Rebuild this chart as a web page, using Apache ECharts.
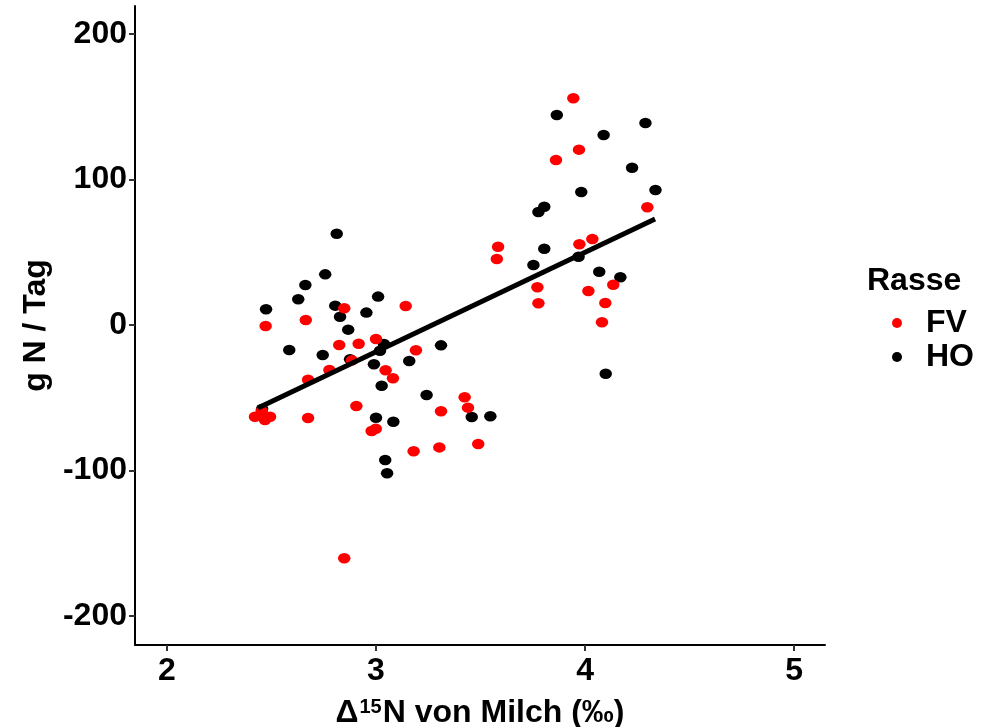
<!DOCTYPE html>
<html>
<head>
<meta charset="utf-8">
<script src="https://cdn.jsdelivr.net/npm/echarts@6/dist/echarts.min.js"></script>
<style>
  html, body { margin: 0; padding: 0; background: #fff; }
  #chart { width: 1000px; height: 727px; }
</style>
</head>
<body>
<div id="chart"></div>
<script>
// Rasse FV (rot)
const fvX = [3.944, 3.971, 3.861, 4.298, 3.584, 3.578, 3.973, 4.035, 3.772, 3.777,
  4.016, 4.135, 4.097, 4.081, 3.142, 2.848, 2.472, 2.664, 2.824, 2.917,
  3.000, 3.191, 2.885, 3.046, 3.081, 2.777, 2.675, 2.421, 2.453, 2.493,
  2.469, 2.675, 2.906, 2.979, 2.999, 3.311, 3.424, 3.440, 3.180, 3.303,
  3.489, 2.848]
const fvY = [155.8, 120.5, 113.4, 80.9, 53.8, 45.4, 55.5, 59.1, 25.9, 14.9,
  23.4, 27.7, 15.1, 1.9, 13.1, 11.5, -0.7, 3.4, -13.7, -12.9,
  -9.6, -17.4, -24.3, -31.1, -36.6, -30.9, -37.6, -63.0, -59.1, -63.0,
  -65.3, -63.9, -55.7, -72.9, -71.3, -59.3, -49.7, -56.8, -86.8, -84.1,
  -81.8, -160.3]

// Rasse HO (schwarz)
const hoX = [3.865, 4.289, 4.089, 4.225, 4.337, 3.982, 3.805, 3.777, 3.805, 3.753,
  3.969, 4.068, 4.169, 4.099, 2.812, 2.757, 2.662, 2.628, 2.474, 2.805,
  2.828, 2.954, 3.010, 2.867, 2.585, 2.745, 2.876, 3.038, 3.019, 2.990,
  3.159, 3.027, 3.242, 3.311, 3.000, 3.083, 3.458, 3.547, 3.044, 3.053,
  2.455]
const hoY = [144.3, 138.8, 130.6, 108.1, 92.8, 91.4, 81.3, 77.7, 52.4, 41.2,
  46.9, 36.6, 32.8, -33.5, 62.7, 34.8, 27.5, 17.7, 10.8, 13.3,
  5.7, 8.5, 19.5, -3.2, -17.2, -20.6, -23.6, -13.1, -17.7, -27.0,
  -24.7, -41.7, -48.1, -14.0, -63.7, -66.5, -63.2, -62.7, -92.8, -101.9,
  -57.7]

// Regressionsgerade (Endpunkte)
const fitX = [2.435, 4.335]
const fitY = [-57.0, 72.9]

const xTicks = [2, 3, 4, 5]
const yTicks = [-200, -100, 0, 100, 200]

const zip = (xs, ys) => xs.map((x, i) => [x, ys[i]])

const font = 'Liberation Sans, Arial, sans-serif'
const fs = 32

const chart = echarts.init(document.getElementById('chart'))

chart.setOption({
  animation: false,
  backgroundColor: '#fff',
  title: {
    text: 'Rasse',
    left: 862,
    top: 260,
    textStyle: { fontFamily: font, fontSize: fs, fontWeight: 'bold', color: '#000' }
  },
  legend: {
    data: ['FV', 'HO'],
    orient: 'vertical',
    left: 887,
    top: 302,
    itemGap: 2,
    itemWidth: 12,
    itemHeight: 10,
    icon: 'circle',
    textStyle: {
      fontFamily: font, fontSize: fs, fontWeight: 'bold', color: '#000',
      padding: [0, 0, 0, 18]
    }
  },
  grid: { left: 135, right: 175, top: 6, bottom: 82, outerBoundsMode: 'none' },
  xAxis: {
    type: 'value',
    min: 1.847,
    max: 5.148,
    name: '{a|Δ}{s|15}{a|N von Milch (‰)}',
    nameLocation: 'middle',
    nameGap: 52,
    nameTextStyle: {
      rich: {
        a: { fontFamily: font, fontSize: fs, fontWeight: 'bold', color: '#000' },
        s: { fontFamily: font, fontSize: 20, fontWeight: 'bold', color: '#000', verticalAlign: 'top', padding: [0, 1, 8, 1] }
      }
    },
    splitLine: { show: false },
    axisLine: { onZero: false, lineStyle: { color: '#000', width: 2 } },
    axisTick: { customValues: xTicks, length: 6, lineStyle: { color: '#333', width: 2 } },
    axisLabel: {
      customValues: xTicks,
      margin: 10,
      fontFamily: font, fontSize: fs, fontWeight: 'bold', color: '#000'
    }
  },
  yAxis: {
    type: 'value',
    min: -219.9,
    max: 219.2,
    name: 'g N / Tag',
    nameLocation: 'middle',
    nameGap: 77,
    nameTextStyle: { fontFamily: font, fontSize: fs, fontWeight: 'bold', color: '#000' },
    splitLine: { show: false },
    axisLine: { show: true, onZero: false, lineStyle: { color: '#000', width: 2 } },
    axisTick: { show: true, customValues: yTicks, length: 6, lineStyle: { color: '#333', width: 2 } },
    axisLabel: {
      customValues: yTicks,
      margin: 8,
      fontFamily: font, fontSize: fs, fontWeight: 'bold', color: '#000'
    }
  },
  series: [
    {
      name: 'HO',
      type: 'scatter',
      data: zip(hoX, hoY),
      symbol: 'circle',
      symbolSize: [12.5, 10.5],
      itemStyle: { color: '#000', opacity: 1 },
      z: 2
    },
    {
      name: 'FV',
      type: 'scatter',
      data: zip(fvX, fvY),
      symbol: 'circle',
      symbolSize: [12.5, 10.5],
      itemStyle: { color: '#ff0000', opacity: 1 },
      z: 3
    },
    {
      name: 'fit',
      type: 'line',
      data: zip(fitX, fitY),
      symbol: 'none',
      lineStyle: { color: '#000', width: 5 },
      z: 4,
      silent: true
    }
  ]
})
</script>
</body>
</html>
